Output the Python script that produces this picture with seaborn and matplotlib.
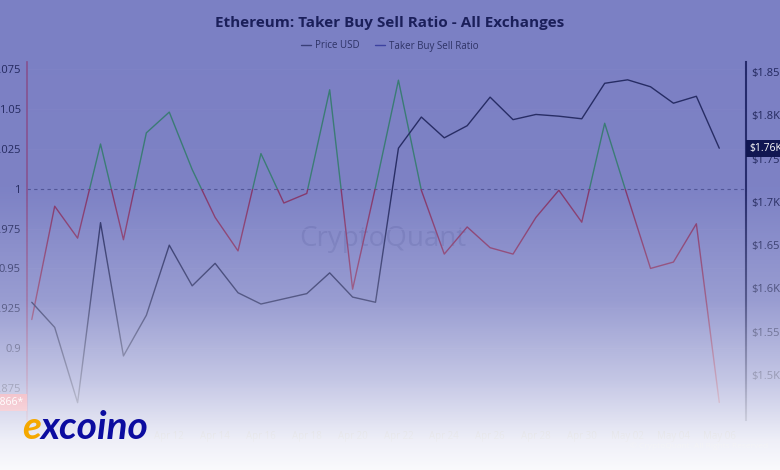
import numpy as np
import pandas as pd
import matplotlib
matplotlib.use("Agg")
import matplotlib.pyplot as plt
import matplotlib.dates as mdates
import matplotlib.transforms as mtransforms
from matplotlib.patches import Rectangle
from matplotlib.lines import Line2D
import seaborn as sns

sns.set_style("white")
plt.rcParams["font.family"] = ["Open Sans", "DejaVu Sans"]

# daily values, Apr 06 - May 06
dates = pd.date_range("2025-04-06", "2025-05-06", freq="D")
ratio = [0.918, 0.989, 0.969, 1.028, 0.968, 1.035, 1.048, 1.012, 0.982, 0.961,
         1.022, 0.991, 0.997, 1.062, 0.937, 1.001, 1.068, 0.999, 0.959, 0.976,
         0.963, 0.959, 0.982, 0.999, 0.979, 1.041, 0.995, 0.950, 0.954, 0.978,
         0.866]
price_k = [1.584, 1.555, 1.468, 1.676, 1.522, 1.569, 1.650, 1.603, 1.629, 1.595,
           1.582, 1.588, 1.594, 1.618, 1.590, 1.584, 1.762, 1.798, 1.774, 1.788,
           1.821, 1.795, 1.801, 1.799, 1.796, 1.837, 1.841, 1.833, 1.814, 1.822,
           1.762]
ratio_ticks = [0.875, 0.9, 0.925, 0.95, 0.975, 1, 1.025, 1.05, 1.075]
price_ticks = [1.5, 1.55, 1.6, 1.65, 1.7, 1.75, 1.8, 1.85]
date_ticks = pd.date_range("2025-04-12", "2025-05-06", freq="2D")

df = pd.DataFrame({"date": dates, "ratio": ratio, "price": price_k})

BG = "#7b80c4"
GREEN = "#397a74"
RED = "#83356a"
NAVY = "#262b64"

fig = plt.figure(figsize=(7.8, 4.7), dpi=100, facecolor=BG)
ax = fig.add_axes([27 / 780, 1 - 420 / 470, (746 - 27) / 780, (420 - 62) / 470])
ax.set_facecolor("none")
ax2 = ax.twinx()
ax2.set_facecolor("none")

# watermark
ax.text(0.495, 1 - (246 - 62) / 358, "CryptoQuant", transform=ax.transAxes,
        ha="center", va="baseline", fontsize=20, color="#6e73b8", zorder=0)

ax.axhline(1, color="#4f5396", lw=0.8, ls=(0, (3, 3)), zorder=1)
ax.grid(axis="y", color="#8084c6", lw=0.5)

blend = mtransforms.blended_transform_factory(ax.transAxes, ax.transData)
sns.lineplot(data=df, x="date", y="ratio", color=GREEN, lw=1.0, ax=ax)
ax.lines[-1].set_clip_path(Rectangle((0, 1), 1, 10, transform=blend))
sns.lineplot(data=df, x="date", y="ratio", color=RED, lw=1.0, ax=ax)
ax.lines[-1].set_clip_path(Rectangle((0, -10), 1, 11, transform=blend))

sns.lineplot(data=df, x="date", y="price", color=NAVY, lw=1.0, ax=ax2)

ax.set_xlim(dates[0] - pd.Timedelta(hours=5), dates[-1] + pd.Timedelta(hours=28))
ax.set_ylim(0.855, 1.0794)
ax2.set_ylim(1.448, 1.8616)

ax.set_yticks(ratio_ticks)
ax.set_yticklabels([f"{t:g}" for t in ratio_ticks])
ax2.set_yticks(price_ticks)
ax2.set_yticklabels([f"${t:g}K" for t in price_ticks])
ax.set_xticks(date_ticks)
ax.xaxis.set_major_formatter(mdates.DateFormatter("%b %d"))

ax.tick_params(axis="y", length=0, pad=4.5, labelsize=8, labelcolor="#23285e")
ax.tick_params(axis="x", length=0, pad=8, labelsize=7, labelcolor="#6a6a7e")
ax2.tick_params(axis="y", length=0, pad=3.5, labelsize=8, labelcolor="#23285e")
ax.set_xlabel("")
ax.set_ylabel("")
ax2.set_ylabel("")

for a in (ax, ax2):
    for s in ("top", "bottom"):
        a.spines[s].set_visible(False)
ax.spines["right"].set_visible(False)
ax2.spines["left"].set_visible(False)
ax.spines["left"].set_color("#86508e")
ax.spines["left"].set_linewidth(1.2)
ax2.spines["right"].set_color("#252a6c")
ax2.spines["right"].set_linewidth(1.5)

# last value labels
ax.annotate(f"{ratio[-1]:.3f}*", xy=(0, ratio[-1]), xycoords=blend,
            xytext=(-2, 0), textcoords="offset points", ha="right", va="center",
            fontsize=7.5, color="white",
            bbox=dict(boxstyle="square,pad=0.3", fc="#e0637a", ec="none"))
blend2 = mtransforms.blended_transform_factory(ax2.transAxes, ax2.transData)
ax2.annotate(f"${price_k[-1]:.2f}K", xy=(1, price_k[-1]), xycoords=blend2,
             xytext=(2.5, 0), textcoords="offset points", ha="left", va="center",
             fontsize=7.5, color="white",
             bbox=dict(boxstyle="square,pad=0.3", fc="#0e1450", ec="none"))

fig.text(0.5, 1 - 23 / 470, "Ethereum: Taker Buy Sell Ratio - All Exchanges",
         ha="center", va="center", fontsize=11, fontweight="bold", color="#1b1f5a")
handles = [Line2D([], [], color="#3a3f78", lw=1.0),
           Line2D([], [], color="#3d42a0", lw=1.0)]
fig.legend(handles, ["Price USD", "Taker Buy Sell Ratio"], loc="center",
           bbox_to_anchor=(0.5, 1 - 46 / 470), ncol=2, frameon=False, fontsize=7,
           handlelength=1.0, handletextpad=0.4, columnspacing=1.6,
           labelcolor="#2e3366")
fig.text(0.985, 1 - 446 / 470, "© CryptoQuant. All Rights Reserved", ha="right",
         va="center", fontsize=6, color="#9a9aaa")

# white fade over the lower part
over = fig.add_axes([0, 0, 1, 1], zorder=10)
over.set_axis_off()
rows = np.arange(470)
alpha = np.interp(rows, [0, 190, 300, 380, 440, 470], [0, 0.02, 0.23, 0.56, 0.88, 0.97])
img = np.ones((470, 1, 4))
img[:, 0, 3] = alpha
over.imshow(img, extent=[0, 1, 0, 1], aspect="auto", origin="upper", zorder=0)
over.set_xlim(0, 1)
over.set_ylim(0, 1)

# logo
e = over.text(22 / 780, 1 - 439 / 470, "e", ha="left", va="baseline", fontsize=28,
              fontweight="bold", style="italic", color="#f5a800",
              family=["Lato", "DejaVu Sans"], zorder=5)
over.annotate("xcoino", xy=(1, 0), xycoords=e, xytext=(0, 0),
              textcoords="offset points", ha="left", va="bottom", fontsize=28,
              fontweight="bold", style="italic", color="#0c0ca0",
              family=["Lato", "DejaVu Sans"], zorder=5)

fig.savefig("out.png", dpi=100, facecolor=BG)
